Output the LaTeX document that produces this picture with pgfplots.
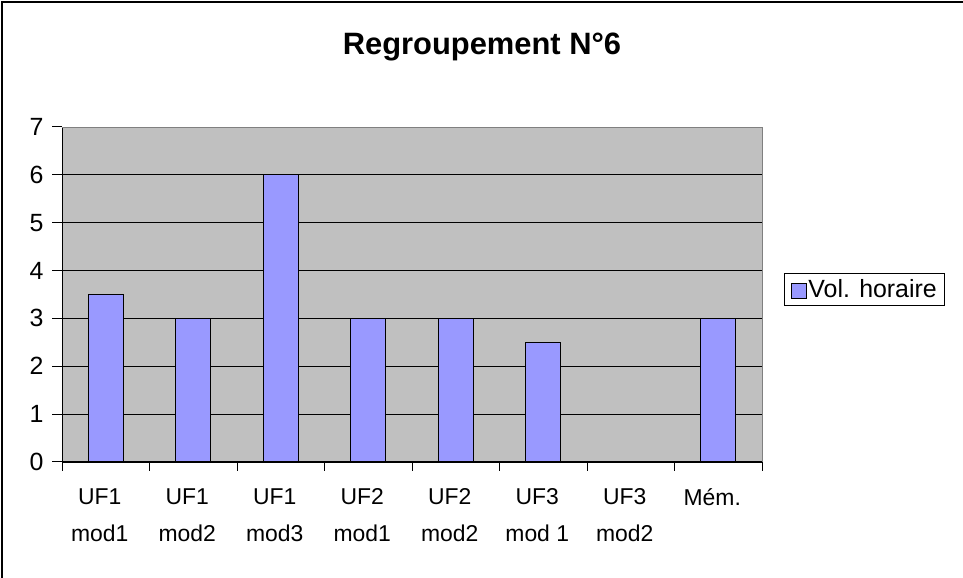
\documentclass[border=0pt]{standalone}
\usepackage{pgfplots}
\pgfplotsset{compat=1.18}
\usepackage{fontspec}
\setmainfont{Liberation Sans}
\definecolor{plotbg}{HTML}{C0C0C0}
\definecolor{barcol}{HTML}{9999FF}
\definecolor{frameg}{HTML}{808080}
\begin{document}
\begin{tikzpicture}[x=1bp,y=1bp]
\path[use as bounding box] (0,0) rectangle (963,578);
\draw[line width=2bp] (2,0) -- (2,576) -- (963,576);
\node[font=\fontsize{31}{34}\selectfont\bfseries] at (482,531) {Regroupement N°6};
\begin{axis}[
  at={(62bp,116bp)}, anchor=south west,
  scale only axis, width=700bp, height=335bp,
  xmin=-0.5, xmax=7.5, ymin=0, ymax=7,
  ybar, bar width=35bp,
  axis background/.style={fill=plotbg},
  axis x line*=bottom, axis y line*=left,
  axis line style={black, line width=1bp},
  xtick={0,...,7},
  xticklabels={{UF1\\mod1},{UF1\\mod2},{UF1\\mod3},{UF2\\mod1},{UF2\\mod2},{UF3\\mod 1},{UF3\\mod2},{Mém.}},
  x tick label style={align=center, font=\fontsize{23}{37}\selectfont, yshift=-13bp, xshift=-6bp},
  minor xtick={-0.5,0.5,...,7.5},
  x tick style={draw=none},
  minor x tick style={draw=black, line width=1bp},
  ytick={0,...,7},
  y tick label style={font=\fontsize{25}{28}\selectfont, xshift=-5bp},
  /pgf/number format/assume math mode=true,
  tick align=outside,
  major tick length=10bp, minor tick length=9bp,
  y tick style={black, line width=1bp},
  ymajorgrids, grid style={black, line width=0.9bp},
  legend style={at={(axis description cs:1.0314,0.5642)}, anchor=north west, font=\fontsize{25}{28}\selectfont,
    draw=black, line width=1bp, inner xsep=6bp, inner ysep=4bp},
  legend image code/.code={\draw[fill=barcol, draw=black, line width=1bp] (0bp,-9bp) rectangle (15bp,6bp);},
  legend cell align=left,
  clip=false,
]
\addplot[fill=barcol, draw=black, line width=1.2bp] coordinates {(0,3.5) (1,3) (2,6) (3,3) (4,3) (5,2.5) (7,3)};
\addlegendentry{Vol. horaire}
\draw[frameg, line width=0.9bp] (axis cs:-0.5,7) -- (axis cs:7.5,7) -- (axis cs:7.5,0);
\end{axis}
\end{tikzpicture}
\end{document}
